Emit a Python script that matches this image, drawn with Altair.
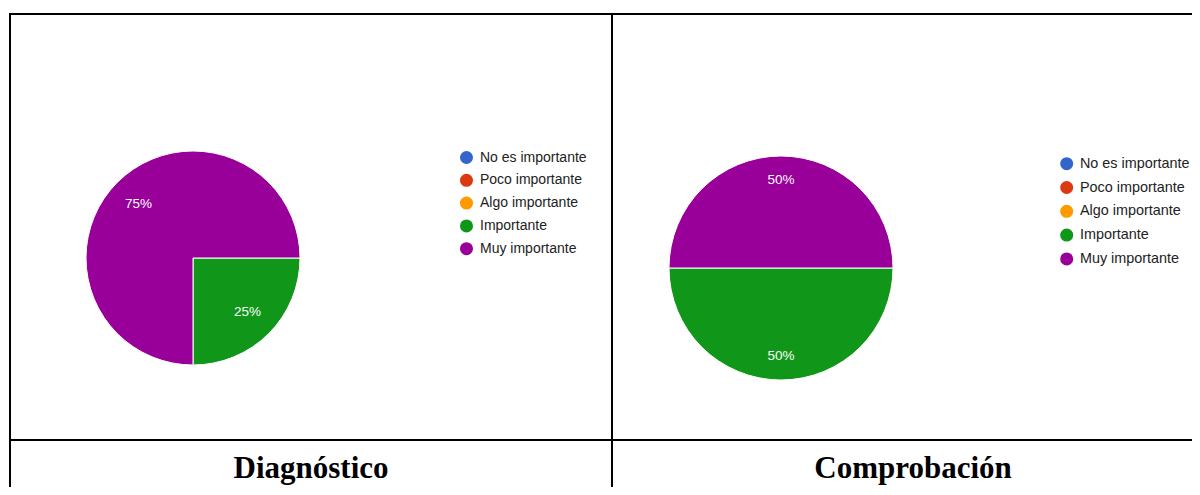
import math
import altair as alt
import pandas as pd

categories = ["No es importante", "Poco importante", "Algo importante", "Importante", "Muy importante"]
colors = ["#3366cc", "#dc3912", "#ff9900", "#109618", "#990099"]
diag_pct = [0, 0, 0, 25, 75]
comp_pct = [0, 0, 0, 50, 50]
titles = ["Diagnóstico", "Comprobación"]


def frame(vals):
    return pd.DataFrame({
        "cat": categories,
        "idx": list(range(len(categories))),
        "pct": vals,
        "label": [f"{v}%" for v in vals],
    })


theta_scale = alt.Scale(domain=[0, 100], range=[math.pi / 2, math.pi / 2 + 2 * math.pi])
color_scale = alt.Scale(domain=categories, range=colors)


def pie(vals, cx, cy, r, lr, lx, ly, fsize, rowpad, loff):
    base = alt.Chart(frame(vals)).transform_filter("datum.pct > 0")
    arc = base.mark_arc(stroke="white", strokeWidth=1).encode(
        theta=alt.Theta("pct:Q", stack=True, scale=theta_scale),
        order=alt.Order("idx:Q", sort="ascending"),
        color=alt.Color(
            "cat:N",
            scale=color_scale,
            legend=alt.Legend(
                title=None,
                orient="none",
                legendX=lx,
                legendY=ly,
                symbolType="circle",
                symbolSize=170,
                symbolStrokeWidth=0,
                labelFont="Liberation Sans",
                labelFontSize=fsize,
                labelColor="#222222",
                labelOffset=loff,
                rowPadding=rowpad,
                padding=0,
                labelLimit=300,
            ),
        ),
        x=alt.value(cx),
        y=alt.value(cy),
        radius=alt.value(r),
    )
    txt = base.mark_text(
        font="Liberation Sans", fontSize=13.5, color="white", align="center", baseline="middle"
    ).encode(
        theta=alt.Theta("pct:Q", stack=True, scale=theta_scale),
        order=alt.Order("idx:Q", sort="ascending"),
        text="label:N",
        x=alt.value(cx),
        y=alt.value(cy),
        radius=alt.value(lr),
    )
    return arc, txt


arc1, txt1 = pie(diag_pct, 185, 250, 107, 77, 451.5, 142.5, 14, 8.8, 6.5)
arc2, txt2 = pie(comp_pct, 773, 260, 112, 88, 1051.5, 148.5, 14.4, 8.8, 6)

W, H = 1184, 479
line = dict(color="black", strokeWidth=2)
dummy = pd.DataFrame({"a": [0]})
top = alt.Chart(dummy).mark_rule(**line).encode(x=alt.value(1), x2=alt.value(W), y=alt.value(6))
mid = alt.Chart(dummy).mark_rule(**line).encode(x=alt.value(1), x2=alt.value(W), y=alt.value(432))
left = alt.Chart(dummy).mark_rule(**line).encode(x=alt.value(2), y=alt.value(5), y2=alt.value(H))
center = alt.Chart(dummy).mark_rule(**line).encode(x=alt.value(604), y=alt.value(5), y2=alt.value(H))


def title_layer(t, x):
    return alt.Chart(pd.DataFrame({"t": [t]})).mark_text(
        font="Liberation Serif", fontSize=31, fontWeight="bold", color="black",
        align="center", baseline="alphabetic"
    ).encode(text="t:N", x=alt.value(x), y=alt.value(470))


t1 = title_layer(titles[0], 303)
t2 = title_layer(titles[1], 905)

chart = alt.layer(arc1, txt1, arc2, txt2, top, mid, left, center, t1, t2).resolve_scale(
    color="independent"
).resolve_legend(color="independent").properties(
    width=W, height=H, padding=0, autosize=alt.AutoSizeParams(type="none")
).configure_view(stroke=None)

chart.save("out.html", embed_options={"renderer": "svg", "actions": False})
